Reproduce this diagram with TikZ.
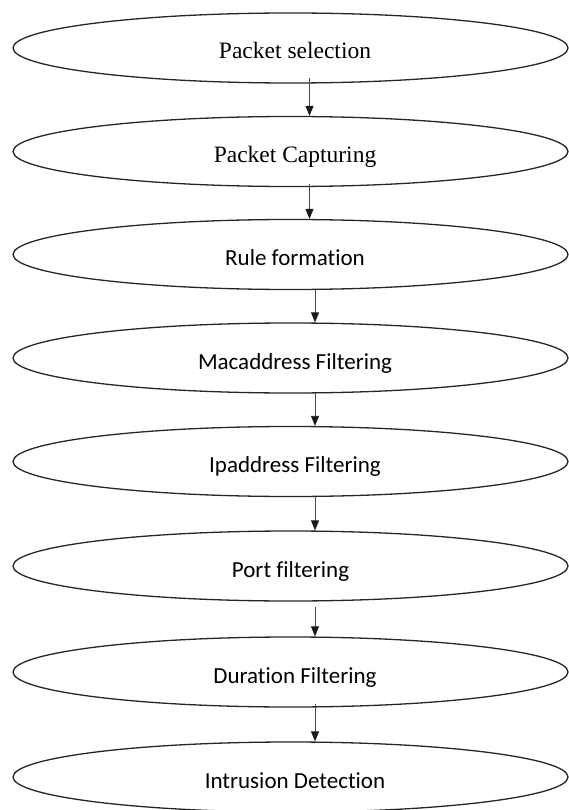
\documentclass[tikz,border=0pt]{standalone}
\usepackage{fontspec}
\setmainfont{Liberation Serif}
\newfontfamily\calibrifont[Ligatures={NoCommon}]{Carlito}
\usetikzlibrary{shapes.geometric,arrows.meta}
\begin{document}
\begin{tikzpicture}[x=1pt,y=-1pt,
  stage/.style={ellipse,draw=black!85,line width=1.3pt,minimum width=555pt,minimum height=70pt,inner sep=0pt,text height=22pt,text depth=0pt,align=center},
  serifl/.style={font=\fontsize{23.5}{26}\selectfont},
  calil/.style={font=\calibrifont\fontsize{23}{26}\selectfont},
  flow/.style={draw=black!70,line width=0.8pt,-{Triangle[length=10pt,width=8pt,color=black!90]}}]
\useasboundingbox (0,0) rectangle (568,810);
\node[stage,serifl] (e1) at (290.5,48) {\hspace*{9pt}Packet selection};
\node[stage,serifl] (e2) at (290.5,151.5) {\hspace*{9pt}Packet Capturing};
\node[stage,calil] (e3) at (290.5,254.5) {\hspace*{9pt}Rule formation};
\node[stage,calil] (e4) at (290.5,358) {\hspace*{9pt}Macaddress Filtering};
\node[stage,calil] (e5) at (290.5,461.5) {\hspace*{9pt}Ipaddress Filtering};
\node[stage,calil] (e6) at (290.5,566) {\hspace*{0pt}Port filtering};
\node[stage,calil] (e7) at (290.5,672) {\hspace*{9pt}Duration Filtering};
\node[stage,calil] (e8) at (290.5,777) {\hspace*{9pt}Intrusion Detection};
\draw[flow] ([xshift=19pt,yshift=6pt]e1.south) -- ([xshift=19pt]e2.north);
\draw[flow] ([xshift=19pt,yshift=3pt]e2.south) -- ([xshift=19pt]e3.north);
\draw[flow] ([xshift=24.5pt,yshift=0pt]e3.south) -- ([xshift=24.5pt]e4.north);
\draw[flow] ([xshift=24.5pt,yshift=0pt]e4.south) -- ([xshift=24.5pt]e5.north);
\draw[flow] ([xshift=24.5pt,yshift=0pt]e5.south) -- ([xshift=24.5pt]e6.north);
\draw[flow] ([xshift=24.5pt,yshift=-5pt]e6.south) -- ([xshift=24.5pt]e7.north);
\draw[flow] ([xshift=24.5pt,yshift=4pt]e7.south) -- ([xshift=24.5pt]e8.north);
\end{tikzpicture}
\end{document}
